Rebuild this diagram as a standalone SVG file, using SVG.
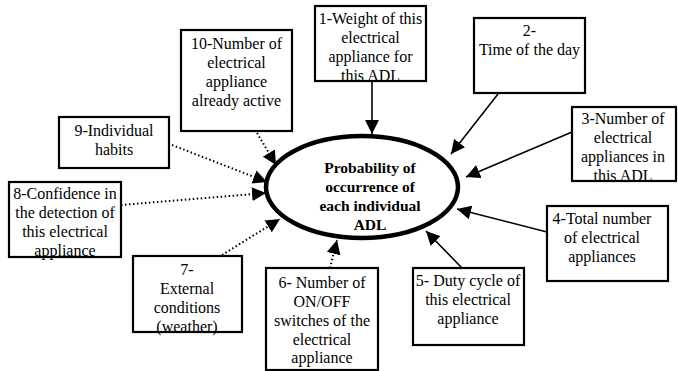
<svg xmlns="http://www.w3.org/2000/svg" width="678" height="371" viewBox="0 0 678 371" font-family="Liberation Serif, serif">
<style>
.box{fill:#fff;stroke:#000;stroke-width:2.2}
text{font-family:"Liberation Serif",serif}
.t{font-size:16px;fill:#000;text-anchor:middle}
.b{font-weight:bold;font-size:15.5px}
.solid{stroke:#000;stroke-width:1.6;fill:none}
.dot{stroke:#000;stroke-width:2;stroke-dasharray:1.5 2.5;fill:none}
</style>
<defs>
<marker id="ah" viewBox="0 0 14 14" refX="14" refY="7" markerWidth="14" markerHeight="14" markerUnits="userSpaceOnUse" orient="auto">
<path d="M0,0 L14,7 L0,14 z" fill="#000"/>
</marker>
</defs>
<rect width="678" height="371" fill="#fff"/>
<g id="connectors">
<line class="solid" x1="372" y1="81" x2="372" y2="134" marker-end="url(#ah)"/>
<line class="solid" x1="498" y1="94" x2="451" y2="154" marker-end="url(#ah)"/>
<line class="solid" x1="572" y1="132" x2="466" y2="177" marker-end="url(#ah)"/>
<line class="solid" x1="547" y1="232" x2="457" y2="209" marker-end="url(#ah)"/>
<line class="solid" x1="462" y1="268" x2="426" y2="231" marker-end="url(#ah)"/>
<line class="dot" x1="330" y1="268" x2="337" y2="240" marker-end="url(#ah)"/>
<line class="dot" x1="222" y1="255" x2="280" y2="219" marker-end="url(#ah)"/>
<line class="dot" x1="121" y1="205" x2="266" y2="193" marker-end="url(#ah)"/>
<line class="dot" x1="172" y1="145" x2="267" y2="182" marker-end="url(#ah)"/>
<line class="dot" x1="257" y1="133" x2="276" y2="165" marker-end="url(#ah)"/>
</g>
<g id="center">
<ellipse cx="362" cy="187" rx="96" ry="51" fill="none" stroke="#000" stroke-width="4.5"/>
<text class="t b" x="370" y="172.5">Probability of</text>
<text class="t b" x="370" y="191.5">occurrence of</text>
<text class="t b" x="370" y="210.5">each individual</text>
<text class="t b" x="370" y="229.5">ADL</text>
</g>
<g id="n1">
<rect class="box" x="315" y="6" width="111" height="75"/>
<text class="t" x="370.5" y="23.5">1-Weight of this</text>
<text class="t" x="370.5" y="42.5">electrical</text>
<text class="t" x="370.5" y="62">appliance for</text>
<text class="t" x="370.5" y="81">this ADL</text>
</g>
<g id="n2">
<rect class="box" x="474" y="18" width="111" height="75"/>
<text class="t" x="529.5" y="35.5">2-</text>
<text class="t" x="529.5" y="54.5">Time of the day</text>
</g>
<g id="n3">
<rect class="box" x="572" y="107" width="104" height="74"/>
<text class="t" x="623" y="123.5">3-Number of</text>
<text class="t" x="623" y="143">electrical</text>
<text class="t" x="623" y="161.5">appliances in</text>
<text class="t" x="623" y="180.5">this ADL</text>
</g>
<g id="n4">
<rect class="box" x="547" y="206" width="121" height="75"/>
<text class="t" x="602" y="223.5">4-Total number</text>
<text class="t" x="602" y="242.5">of electrical</text>
<text class="t" x="602" y="261.5">appliances</text>
</g>
<g id="n5">
<rect class="box" x="413" y="268" width="111" height="77"/>
<text class="t" x="468" y="285.5">5- Duty cycle of</text>
<text class="t" x="468" y="304.5">this electrical</text>
<text class="t" x="468" y="323.5">appliance</text>
</g>
<g id="n6">
<rect class="box" x="266" y="268" width="112" height="102"/>
<text class="t" x="322" y="287.5">6- Number of</text>
<text class="t" x="322" y="306.5">ON/OFF</text>
<text class="t" x="322" y="325.5">switches of the</text>
<text class="t" x="322" y="344.5">electrical</text>
<text class="t" x="322" y="362.5">appliance</text>
</g>
<g id="n7">
<rect class="box" x="133" y="256" width="109" height="76"/>
<text class="t" x="187" y="274.5">7-</text>
<text class="t" x="187" y="293.5">External</text>
<text class="t" x="187" y="313">conditions</text>
<text class="t" x="187" y="331.5">(weather)</text>
</g>
<g id="n8">
<rect class="box" x="9" y="182" width="112" height="75"/>
<text class="t" x="65" y="198.5">8-Confidence in</text>
<text class="t" x="65" y="218">the detection of</text>
<text class="t" x="65" y="237">this electrical</text>
<text class="t" x="65" y="256">appliance</text>
</g>
<g id="n9">
<rect class="box" x="59" y="117" width="110" height="51"/>
<text class="t" x="114" y="135.5">9-Individual</text>
<text class="t" x="114" y="154.5">habits</text>
</g>
<g id="n10">
<rect class="box" x="181" y="30" width="111" height="101"/>
<text class="t" x="236.5" y="48.5">10-Number of</text>
<text class="t" x="236.5" y="67.5">electrical</text>
<text class="t" x="236.5" y="86.5">appliance</text>
<text class="t" x="236.5" y="105.5">already active</text>
</g>
</svg>
